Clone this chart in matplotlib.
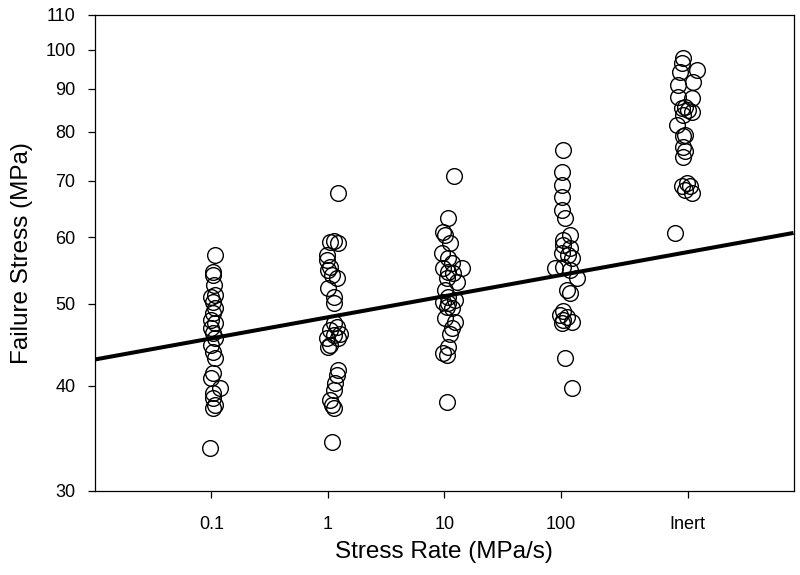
import numpy as np
import matplotlib
matplotlib.use("Agg")
import matplotlib.pyplot as plt
from matplotlib.ticker import FixedLocator, FixedFormatter, NullLocator

plt.rcParams['font.family'] = ['Liberation Sans', 'DejaVu Sans']

# ---- data -------------------------------------------------------------
rate_01 = [0.107, 0.103, 0.103, 0.105, 0.100, 0.107, 0.103, 0.107, 0.103, 0.100,
           0.107, 0.100, 0.103, 0.107, 0.100, 0.103, 0.107, 0.103, 0.100, 0.118,
           0.103, 0.103, 0.107, 0.103, 0.097]
stress_01 = [57.1, 54.6, 54.1, 52.6, 51.0, 51.2, 50.3, 49.4, 48.8, 47.9,
             47.5, 46.8, 46.2, 45.5, 44.7, 43.8, 43.1, 41.4, 40.8, 39.7,
             39.2, 38.7, 37.9, 37.6, 33.7]

rate_1 = [1.23, 1.05, 1.13, 1.23, 0.98, 0.98, 1.05, 1.01, 1.195, 1.08,
          1.01, 1.12, 1.12, 1.12, 1.195, 1.05, 1.28, 1.12, 0.98, 1.23,
          1.05, 1.01, 1.23, 1.195, 1.155, 1.12, 1.05, 1.08, 1.12, 1.08]
stress_1 = [67.6, 59.2, 59.4, 59.0, 57.1, 56.4, 55.3, 54.8, 53.6, 54.1,
            52.2, 51.0, 50.1, 47.4, 47.0, 46.6, 46.1, 45.9, 45.5, 45.5,
            44.7, 44.5, 41.7, 41.2, 40.3, 39.5, 38.5, 37.9, 37.6, 34.3]

rate_10 = [12.2, 10.8, 9.8, 10.1, 11.2, 9.5, 10.8, 11.6, 14.1, 9.8,
           10.8, 12.0, 10.5, 12.8, 10.1, 10.8, 12.4, 9.8, 10.8, 10.5,
           11.6, 10.1, 12.4, 11.6, 11.2, 10.8, 9.8, 10.5, 10.5]
stress_10 = [70.9, 63.2, 60.9, 60.4, 59.0, 57.4, 56.6, 55.9, 55.1, 55.1,
             54.6, 54.4, 53.6, 53.1, 51.9, 51.0, 50.5, 50.3, 50.1, 49.6,
             49.4, 48.1, 47.6, 46.8, 46.1, 44.5, 43.7, 43.5, 38.3]

rate_100 = [105, 102, 102, 102, 102, 109, 120, 105, 105, 120,
            102, 116, 124, 89, 105, 120, 137, 113, 120, 105,
            99, 113, 105, 124, 102, 109, 124]
stress_100 = [76.1, 71.7, 69.2, 67.0, 64.6, 63.2, 60.4, 59.5, 58.7, 58.2,
              57.4, 57.1, 56.6, 55.1, 55.3, 54.8, 53.6, 51.9, 51.5, 49.0,
              48.5, 48.3, 47.9, 47.6, 47.4, 43.1, 39.7]

# "Inert" specimens, plotted at the Inert category position
rate_inert = [1131, 1095, 1059, 1473, 1023, 1377, 1023, 1334, 1095, 1169,
              1248, 1334, 1131, 991, 1169, 1131, 1131, 1169, 1131, 1209,
              1095, 1290, 1169, 1334, 959]
stress_inert = [97.7, 96.4, 94.2, 94.7, 90.9, 91.7, 88.0, 87.6, 85.3, 85.5,
                84.9, 84.5, 83.7, 81.5, 79.3, 79.0, 76.8, 75.8, 74.7, 69.5,
                68.9, 68.9, 68.3, 67.6, 60.6]

# power-law fit: stress = sigma_1 * rate^(1/(n+1))
fit_n = 39.0
fit_sigma_1 = 48.2
fit_rate_range = [0.01, 10000]

x_tick_values = [0.1, 1, 10, 100, 1233]
x_tick_labels = ['0.1', '1', '10', '100', 'Inert']
y_tick_values = [30, 40, 50, 60, 70, 80, 90, 100, 110]
y_tick_labels = ['30', '40', '50', '60', '70', '80', '90', '100', '110']

# ---- plot -------------------------------------------------------------
fig = plt.figure(figsize=(8, 5.75), dpi=100)
ax = fig.add_axes([95 / 800, 84 / 575, (793.5 - 95) / 800, (491 - 15) / 575])

all_rates = rate_01 + rate_1 + rate_10 + rate_100 + rate_inert
all_stress = stress_01 + stress_1 + stress_10 + stress_100 + stress_inert
ax.plot(all_rates, all_stress, linestyle='none', marker='o', markersize=11.3,
        markerfacecolor='none', markeredgecolor='black', markeredgewidth=1.0)

fx = np.logspace(np.log10(fit_rate_range[0]), np.log10(fit_rate_range[1]), 50)
fy = fit_sigma_1 * fx ** (1.0 / (fit_n + 1.0))
ax.plot(fx, fy, color='black', linewidth=2.9, solid_capstyle='butt')

ax.set_xscale('log')
ax.set_yscale('log')
ax.set_xlim(fit_rate_range[0], fit_rate_range[1])
ax.set_ylim(30, 110)

ax.xaxis.set_major_locator(FixedLocator(x_tick_values))
ax.xaxis.set_major_formatter(FixedFormatter(x_tick_labels))
ax.xaxis.set_minor_locator(NullLocator())
ax.yaxis.set_major_locator(FixedLocator(y_tick_values))
ax.yaxis.set_major_formatter(FixedFormatter(y_tick_labels))
ax.yaxis.set_minor_locator(NullLocator())

ax.tick_params(axis='both', which='major', direction='out', length=5, width=0.9,
               labelsize=13, top=False, right=False, color='black')
ax.tick_params(axis='x', pad=13)
ax.tick_params(axis='y', pad=9)
for s in ax.spines.values():
    s.set_linewidth(0.9)

ax.set_xlabel('Stress Rate (MPa/s)', fontsize=17.5, labelpad=6)
ax.set_ylabel('Failure Stress (MPa)', fontsize=17.5, labelpad=9)

fig.savefig('out.png', dpi=100)
